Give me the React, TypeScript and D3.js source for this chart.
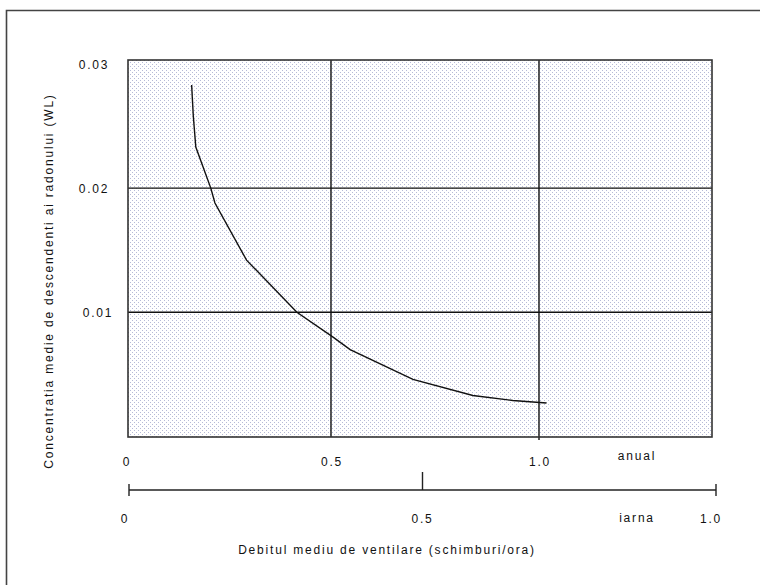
import * as d3 from "d3";

const rates = [0.165, 0.169, 0.175, 0.211, 0.221, 0.297, 0.418, 0.505, 0.546, 0.697, 0.841, 0.937, 1.018];
const concentrations = [0.0283, 0.0258, 0.0233, 0.02, 0.0188, 0.0142, 0.01, 0.008, 0.007, 0.0046, 0.0033, 0.0029, 0.0027];
const yTicks = [0.01, 0.02, 0.03];
const xGrid = [0.5, 1.0];
const annualTicks = ["0", "0.5", "1.0"];
const winterTicks = [0, 0.5, 1.0];

const width = 760;
const height = 585;
const left = 128;
const right = 712;
const top = 60;
const bottom = 437;

const font = "'Liberation Sans', Arial, sans-serif";

export default function App() {
  const x = d3.scaleLinear().domain([0, 1]).range([123, 539]);
  const y = d3.scaleLinear().domain([0, 0.01]).range([436.5, 312.3]);
  const x2 = d3.scaleLinear().domain([0, 1]).range([129, 716]);

  const points = rates.map((r, i) => [r, concentrations[i]] as [number, number]);
  const line = d3
    .line<[number, number]>()
    .x((d) => x(d[0]))
    .y((d) => y(d[1]));

  const axisY = 490;

  return (
    <svg
      width={width}
      height={height}
      style={{ position: "absolute", left: 0, top: 0, background: "white" }}
      fontFamily={font}
      fontSize={12}
    >
      <defs>
        <pattern id="dots" width={4} height={4} patternUnits="userSpaceOnUse">
          <rect width={4} height={4} fill="white" />
          <rect x={0} y={0} width={1} height={1} fill="#b6bad6" />
          <rect x={2} y={2} width={1} height={1} fill="#b6bad6" />
        </pattern>
      </defs>
      <path d={`M6.5,${height + 2}V10.5H${width + 2}`} fill="none" stroke="#444" strokeWidth={1.6} />

      <rect x={left} y={top} width={right - left} height={bottom - top} fill="url(#dots)" />
      <g stroke="#111" strokeWidth={1.4}>
        {yTicks.slice(0, 2).map((t) => (
          <line key={t} x1={left} x2={right} y1={y(t)} y2={y(t)} />
        ))}
        {xGrid.map((t) => (
          <line key={t} x1={x(t)} x2={x(t)} y1={top} y2={t === 1 ? bottom + 3 : bottom} />
        ))}
      </g>
      <rect x={left} y={top} width={right - left} height={bottom - top} fill="none" stroke="#333" strokeWidth={1.6} />
      <path d={line(points) ?? ""} fill="none" stroke="#111" strokeWidth={1.4} />

      <g fill="#111" letterSpacing={1.8} textAnchor="middle">
        {yTicks.map((t) => (
          <text key={t} x={t === 0.01 ? 98 : 94} y={y(t) + 5}>
            {t.toFixed(2)}
          </text>
        ))}
        {annualTicks.map((t, i) => (
          <text key={t} x={x(+t) + (i === 0 ? 4 : 1)} y={466}>
            {t}
          </text>
        ))}
        <text x={637} y={460}>anual</text>
      </g>

      <g stroke="#222" strokeWidth={1.4}>
        <line x1={x2(0)} x2={x2(1)} y1={axisY} y2={axisY} />
        <line x1={x2(0)} x2={x2(0)} y1={axisY - 6} y2={axisY + 6} />
        <line x1={x2(1)} x2={x2(1)} y1={axisY - 6} y2={axisY + 6} />
        <line x1={x2(0.5)} x2={x2(0.5)} y1={axisY - 18} y2={axisY} />
      </g>
      <g fill="#111" letterSpacing={1.8} textAnchor="middle">
        {winterTicks.map((t) => (
          <text key={t} x={t === 0 ? 125 : t === 1 ? 711 : x2(t)} y={523}>
            {t === 0 ? "0" : t.toFixed(1)}
          </text>
        ))}
        <text x={637} y={522}>iarna</text>
        <text x={387} y={554}>Debitul mediu de ventilare (schimburi/ora)</text>
        <text transform={`translate(53,281) rotate(-90)`}>
          Concentratia medie de descendenti ai radonului (WL)
        </text>
      </g>
    </svg>
  );
}
